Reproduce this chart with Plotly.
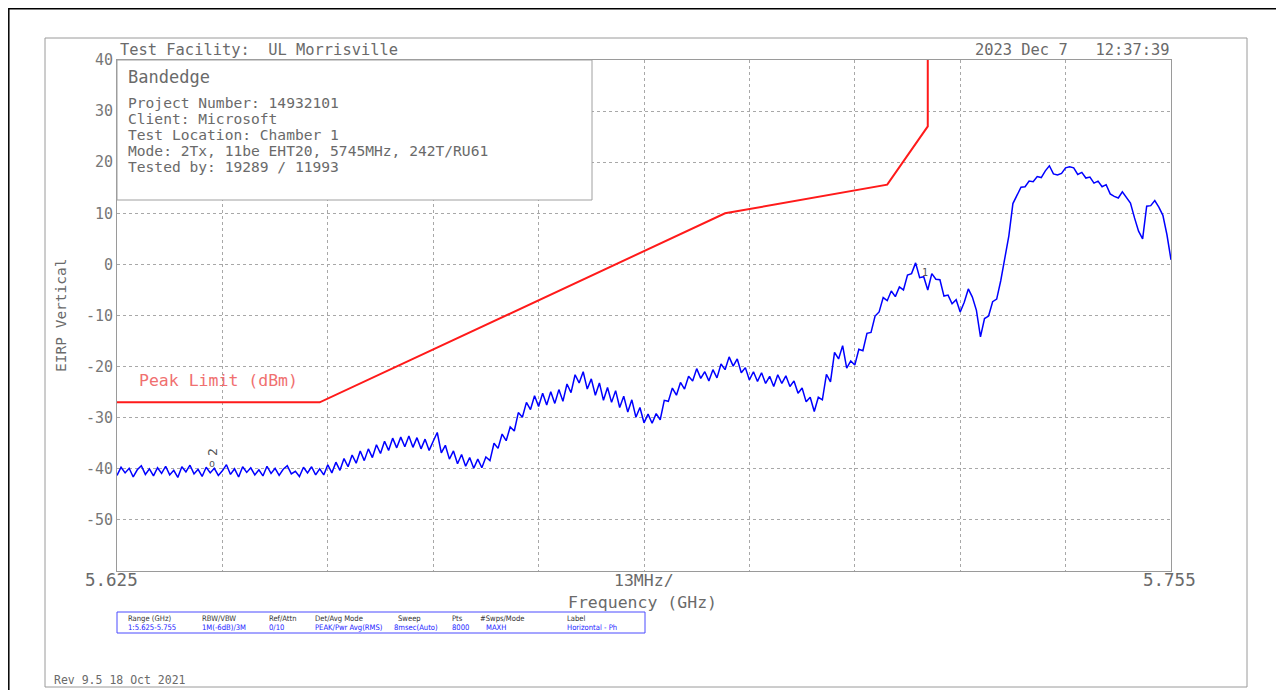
import numpy as np
import plotly.graph_objects as go

# ---------------- data ----------------
f_start, f_stop = 5.625, 5.755           # GHz
n_points = 261                            # sweep points shown (0.5 MHz step)
trace_level = [
    -41.3, -39.7, -40.8, -39.9, -41.6, -40.2, -39.4, -41.1, -40.0, -41.4,
    -39.8, -40.9, -39.5, -41.2, -40.3, -41.7, -39.6, -40.6, -39.3, -41.0,
    -40.1, -41.5, -39.7, -40.8, -39.9, -41.3, -40.4, -39.2, -41.1, -40.0,
    -41.6, -39.6, -40.7, -39.8, -41.2, -40.2, -41.4, -39.5, -40.9, -39.9,
    -41.3, -40.1, -39.4, -41.0, -40.5, -41.5, -39.7, -40.8, -39.6, -41.2,
    -40.0,
    -41.2, -39.2, -40.8, -38.7, -40.3, -38.0, -39.6, -37.3, -38.9, -36.5,
    -38.4, -36.1, -37.8, -35.3, -37.0, -34.6, -36.4, -34.0, -35.9, -33.8,
    -35.7, -33.6, -35.8, -33.9, -36.1, -34.2, -36.4, -34.6, -32.9, -36.9,
    -35.4, -38.1, -36.5, -39.0, -37.2, -39.5, -37.8, -39.9, -38.1, -39.8,
    -37.7, -38.4, -35.0, -36.0, -33.2, -34.5, -31.8, -32.6, -29.0, -29.9,
    -27.0, -28.4, -25.7, -27.8, -25.2, -27.5, -24.9, -27.2, -24.5, -26.8,
    -23.4, -25.1, -21.6, -23.2, -21.0, -24.4, -22.4, -25.6, -23.2, -26.6,
    -24.1, -27.0, -24.7, -28.0, -25.8, -28.9, -26.5, -29.9, -28.0, -31.0,
    -29.3, -31.1, -29.2, -30.4, -26.6, -26.8, -24.2, -25.6, -23.1, -24.4,
    -21.9, -22.8, -20.4, -22.3, -21.0, -22.8, -20.6, -22.2, -19.5, -20.6,
    -18.1, -19.9, -18.5, -21.2, -20.2, -22.6, -21.0, -22.9, -21.2, -23.3,
    -21.9, -23.9, -21.6, -23.3, -21.8, -23.9, -22.8, -25.2, -24.2, -26.9,
    -26.0, -28.8, -26.0, -26.5, -21.5, -23.0, -17.2, -18.5, -15.9, -20.3,
    -18.9, -19.7, -16.6, -16.9, -13.5, -13.3, -10.1, -9.3, -6.5, -7.1,
    -5.2, -6.3, -4.4, -5.0, -2.1, -1.8, 0.3, -2.6, -2.4, -5.0,
    -1.8, -2.9, -3.0, -6.2, -6.0, -7.7, -6.9, -9.3, -7.4, -4.8,
    -6.4, -9.0, -14.2, -10.6, -10.1, -7.3, -6.8, -3.2, 0.9, 5.6,
    11.9, 13.4, 15.1, 15.2, 16.3, 16.2, 17.2, 17.0, 18.3, 19.3,
    17.7, 17.5, 17.8, 18.9, 19.1, 18.9, 17.6, 18.0, 16.9, 17.1,
    15.9, 16.3, 15.2, 15.6, 13.8, 13.3, 13.0, 14.2, 13.1, 12.0,
    9.1, 6.5, 5.0, 11.4, 11.5, 12.5, 11.2, 9.6, 5.8, 0.9,
]
trace_freq = np.linspace(f_start, f_stop, n_points)

limit_freq = [5.625, 5.650, 5.700, 5.720, 5.725, 5.725]
limit_level = [-27, -27, 10, 15.6, 27, 40]

y_ticks = [40, 30, 20, 10, 0, -10, -20, -30, -40, -50]
x_grid = [5.638, 5.651, 5.664, 5.677, 5.690, 5.703, 5.716, 5.729, 5.742]

info_lines = ["Project Number: 14932101", "Client: Microsoft",
              "Test Location: Chamber 1",
              "Mode: 2Tx, 11be EHT20, 5745MHz, 242T/RU61",
              "Tested by: 19289 / 11993"]
table_heads = ["Range (GHz)", "RBW/VBW", "Ref/Attn", "Det/Avg Mode", "Sweep",
               "Pts", "#Swps/Mode", "Label"]
table_vals = ["1:5.625-5.755", "1M(-6dB)/3M", "0/10", "PEAK/Pwr Avg(RMS)",
              "8msec(Auto)", "8000", "MAXH", "Horizontal - Ph"]

# ---------------- layout helpers (page pixel -> paper) ----------------
OFF = 8                       # browser body margin
W, H = 1284 - OFF, 690 - OFF
L, R, T, B = 117, 1171, 60, 571   # plot area in page pixels
def px(x):
    return (x - L) / (R - L)
def py(y):
    return (B - y) / (B - T)

MONO = "DejaVu Sans Mono"
GREY = "#6a6a6a"

fig = go.Figure()
fig.add_trace(go.Scatter(x=limit_freq, y=limit_level, mode="lines",
                         line=dict(color="#ff1a1a", width=2), hoverinfo="skip"))
fig.add_trace(go.Scatter(x=trace_freq, y=trace_level, mode="lines",
                         line=dict(color="#0000ff", width=1.5), hoverinfo="skip"))

shapes = []
# outer frames
shapes.append(dict(type="rect", xref="paper", yref="paper",
                   x0=px(8.8), x1=px(1280), y0=py(700), y1=py(8.8),
                   line=dict(color="black", width=1.5), layer="below"))
shapes.append(dict(type="rect", xref="paper", yref="paper",
                   x0=px(45), x1=px(1247), y0=py(687), y1=py(38),
                   line=dict(color="#9a9a9a", width=1), layer="below"))
# info box
shapes.append(dict(type="rect", xref="paper", yref="paper",
                   x0=0, x1=px(592), y0=py(200), y1=1,
                   line=dict(color="#a0a0a0", width=1), fillcolor="white",
                   layer="above"))
# bottom settings table
shapes.append(dict(type="rect", xref="paper", yref="paper",
                   x0=0, x1=px(645), y0=py(633), y1=py(612),
                   line=dict(color="#4a4aff", width=1), fillcolor="white",
                   layer="above"))

ann = []
def text(x, y, s, size, color=GREY, xanchor="left", yanchor="middle",
         angle=0, font=MONO):
    ann.append(dict(xref="paper", yref="paper", x=px(x), y=py(y), text=s,
                    showarrow=False, xanchor=xanchor, yanchor=yanchor,
                    textangle=angle,
                    font=dict(family=font, size=size, color=color)))

text(118, 50, "Test Facility:  UL Morrisville", 15.4)
text(1172, 50, "2023 Dec 7   12:37:39", 15.4, xanchor="right")
text(126, 77, "Bandedge", 17)
for i, s in enumerate(info_lines):
    text(126, 102 + i * 16, s, 14.6)
text(137, 380, "Peak Limit (dBm)", 16.5, color="#f07070")
text(111, 580, "5.625", 17.5, xanchor="center")
text(644, 580, "13MHz/", 16.5, xanchor="center")
text(1169, 580, "5.755", 17.5, xanchor="center")
text(642, 602, "Frequency (GHz)", 16.5, xanchor="center")
text(61, 315, "EIRP Vertical", 14.5, xanchor="center", angle=-90)
text(52, 680, "Rev 9.5 18 Oct 2021", 11.5)
text(212, 452, "2", 13, color="#555555", xanchor="center", angle=-90)
text(212, 463, "o", 10, color="#555555", xanchor="center")
text(925, 272, "1", 10, color="#555555", xanchor="center")

head_x = [126, 200, 267, 313, 396, 450, 478, 565]
val_x = [126, 200, 267, 313, 392, 450, 484, 565]
for hx, s in zip(head_x, table_heads):
    text(hx, 618, s, 7.6, color="#333333", font="DejaVu Sans Condensed")
for vx, s in zip(val_x, table_vals):
    text(vx, 627.5, s, 7.6, color="#2222ff", font="DejaVu Sans Condensed")

fig.update_layout(
    width=W, height=H,
    margin=dict(l=L - OFF, r=W - (R - OFF), t=T - OFF, b=H - (B - OFF)),
    paper_bgcolor="white", plot_bgcolor="white",
    showlegend=False,
    shapes=shapes, annotations=ann,
    xaxis=dict(range=[f_start, f_stop], tickvals=x_grid, showticklabels=False,
               ticks="", showgrid=True, gridcolor="#a8a8a8", griddash="dot",
               gridwidth=1, zeroline=False, showline=True, mirror=True,
               linecolor="#9a9a9a", linewidth=1, fixedrange=True),
    yaxis=dict(range=[-60, 40], tickvals=y_ticks,
               ticktext=[str(v) for v in y_ticks], ticks="",
               tickfont=dict(family=MONO, size=15, color="#777777"),
               showgrid=True, gridcolor="#a8a8a8", griddash="dot",
               gridwidth=1, zeroline=False, showline=True, mirror=True,
               linecolor="#9a9a9a", linewidth=1, fixedrange=True),
)

fig.write_html("out.html")
